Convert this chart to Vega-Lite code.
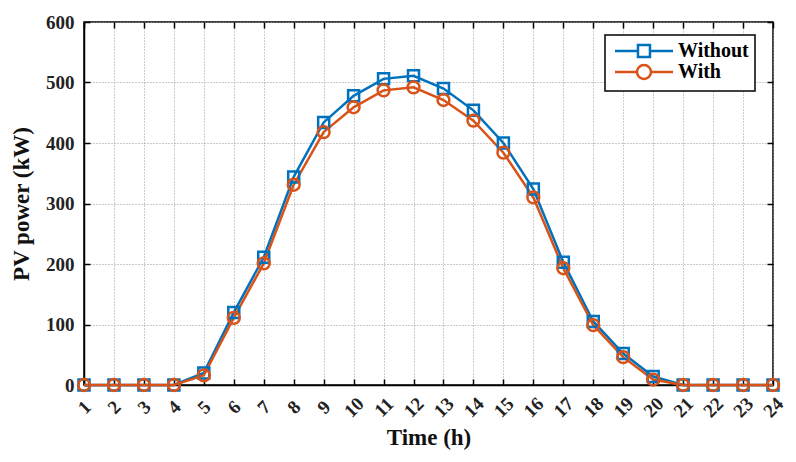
{
  "$schema": "https://vega.github.io/schema/vega-lite/v6.json",
  "description": "PV power over 24 hours, without and with",
  "width": 689,
  "height": 363,
  "autosize": {"type": "none"},
  "padding": {"left": 84, "top": 22, "right": 23, "bottom": 77},
  "background": "white",
  "config": {
    "font": "Liberation Serif",
    "view": {"stroke": "black", "strokeWidth": 1.5},
    "axis": {
      "labelFont": "Liberation Serif",
      "labelFontWeight": "bold",
      "labelFontSize": 19,
      "labelColor": "#222",
      "titleFont": "Liberation Serif",
      "titleFontWeight": "bold",
      "titleFontSize": 23,
      "titleColor": "#111",
      "domainColor": "black",
      "domainWidth": 1.5,
      "tickColor": "black",
      "tickWidth": 1.5,
      "tickSize": -6,
      "gridColor": "#999",
      "gridDash": [1, 2],
      "gridWidth": 1
    },
    "legend": {
      "labelFont": "Liberation Serif",
      "labelFontWeight": "bold",
      "labelFontSize": 20,
      "labelColor": "black",
      "title": null,
      "orient": "none",
      "legendX": 521,
      "legendY": 13,
      "direction": "vertical",
      "padding": 6,
      "fillColor": "white",
      "strokeColor": "black",
      "labelOffset": 47,
      "symbolSize": 144,
      "symbolStrokeWidth": 2.5,
      "symbolFillColor": "transparent",
      "rowPadding": -3
    }
  },
  "data": {
    "values": [
      {"hour": 1, "series": "Without", "power": 0},
      {"hour": 2, "series": "Without", "power": 0},
      {"hour": 3, "series": "Without", "power": 0},
      {"hour": 4, "series": "Without", "power": 0},
      {"hour": 5, "series": "Without", "power": 20},
      {"hour": 6, "series": "Without", "power": 120},
      {"hour": 7, "series": "Without", "power": 211},
      {"hour": 8, "series": "Without", "power": 344},
      {"hour": 9, "series": "Without", "power": 434},
      {"hour": 10, "series": "Without", "power": 478},
      {"hour": 11, "series": "Without", "power": 506},
      {"hour": 12, "series": "Without", "power": 511},
      {"hour": 13, "series": "Without", "power": 490},
      {"hour": 14, "series": "Without", "power": 454},
      {"hour": 15, "series": "Without", "power": 400},
      {"hour": 16, "series": "Without", "power": 324},
      {"hour": 17, "series": "Without", "power": 203},
      {"hour": 18, "series": "Without", "power": 105},
      {"hour": 19, "series": "Without", "power": 52},
      {"hour": 20, "series": "Without", "power": 14},
      {"hour": 21, "series": "Without", "power": 0},
      {"hour": 22, "series": "Without", "power": 0},
      {"hour": 23, "series": "Without", "power": 0},
      {"hour": 24, "series": "Without", "power": 0},
      {"hour": 1, "series": "With", "power": 0},
      {"hour": 2, "series": "With", "power": 0},
      {"hour": 3, "series": "With", "power": 0},
      {"hour": 4, "series": "With", "power": 0},
      {"hour": 5, "series": "With", "power": 16},
      {"hour": 6, "series": "With", "power": 111},
      {"hour": 7, "series": "With", "power": 201},
      {"hour": 8, "series": "With", "power": 331},
      {"hour": 9, "series": "With", "power": 418},
      {"hour": 10, "series": "With", "power": 459},
      {"hour": 11, "series": "With", "power": 487},
      {"hour": 12, "series": "With", "power": 492},
      {"hour": 13, "series": "With", "power": 471},
      {"hour": 14, "series": "With", "power": 437},
      {"hour": 15, "series": "With", "power": 384},
      {"hour": 16, "series": "With", "power": 310},
      {"hour": 17, "series": "With", "power": 193},
      {"hour": 18, "series": "With", "power": 99},
      {"hour": 19, "series": "With", "power": 46},
      {"hour": 20, "series": "With", "power": 9},
      {"hour": 21, "series": "With", "power": 0},
      {"hour": 22, "series": "With", "power": 0},
      {"hour": 23, "series": "With", "power": 0},
      {"hour": 24, "series": "With", "power": 0}
    ]
  },
  "layer": [
    {
      "mark": {"type": "line", "strokeWidth": 2.5},
      "encoding": {
        "x": {
          "field": "hour",
          "type": "quantitative",
          "scale": {"domain": [1, 24], "nice": false, "zero": false},
          "axis": {
            "orient": "bottom",
            "title": "Time (h)",
            "values": [1, 2, 3, 4, 5, 6, 7, 8, 9, 10, 11, 12, 13, 14, 15, 16, 17, 18, 19, 20, 21, 22, 23, 24],
            "labelAngle": -45,
            "labelAlign": "center",
            "labelBaseline": "middle",
            "labelPadding": 28,
            "titlePadding": 6,
            "grid": true
          }
        },
        "y": {
          "field": "power",
          "type": "quantitative",
          "scale": {"domain": [0, 600], "nice": false},
          "axis": {
            "orient": "left",
            "title": "PV power (kW)",
            "values": [0, 100, 200, 300, 400, 500, 600],
            "labelPadding": 16,
            "titlePadding": 12,
            "grid": true
          }
        },
        "color": {
          "field": "series",
          "type": "nominal",
          "sort": ["Without", "With"],
          "scale": {"domain": ["Without", "With"], "range": ["#0072BD", "#D95319"]},
          "legend": {
            "encode": {
              "legend": {"update": {"strokeWidth": {"value": 1.5}}},
              "symbols": {
                "update": {
                  "shape": {"signal": "datum.value === 'Without' ? 'M-1,0H2.83M4.83,0H8.67M2.83,-1H4.83V1H2.83Z' : 'M-1,0H2.66M5,0H8.67M2.66,0A1.17,1.17,0,1,0,5,0A1.17,1.17,0,1,0,2.66,0Z'"},
                  "fill": {"value": "transparent"}
                }
              }
            }
          }
        },
        "detail": {"field": "series"}
      }
    },
    {
      "transform": [{"filter": "datum.series === 'Without'"}],
      "mark": {"type": "point", "shape": "square", "size": 121, "filled": false, "strokeWidth": 2.5, "opacity": 1},
      "encoding": {
        "x": {
          "field": "hour",
          "type": "quantitative",
          "axis": {
            "orient": "top",
            "title": null,
            "labels": false,
            "grid": false,
            "domain": false,
            "values": [1, 2, 3, 4, 5, 6, 7, 8, 9, 10, 11, 12, 13, 14, 15, 16, 17, 18, 19, 20, 21, 22, 23, 24]
          }
        },
        "y": {
          "field": "power",
          "type": "quantitative",
          "axis": {
            "orient": "right",
            "title": null,
            "labels": false,
            "grid": false,
            "domain": false,
            "values": [0, 100, 200, 300, 400, 500, 600]
          }
        },
        "color": {
          "field": "series",
          "type": "nominal",
          "sort": ["Without", "With"],
          "scale": {"domain": ["Without", "With"], "range": ["#0072BD", "#D95319"]},
          "legend": {
            "encode": {
              "legend": {"update": {"strokeWidth": {"value": 1.5}}},
              "symbols": {
                "update": {
                  "shape": {"signal": "datum.value === 'Without' ? 'M-1,0H2.83M4.83,0H8.67M2.83,-1H4.83V1H2.83Z' : 'M-1,0H2.66M5,0H8.67M2.66,0A1.17,1.17,0,1,0,5,0A1.17,1.17,0,1,0,2.66,0Z'"},
                  "fill": {"value": "transparent"}
                }
              }
            }
          }
        }
      }
    },
    {
      "transform": [{"filter": "datum.series === 'With'"}],
      "mark": {"type": "point", "shape": "circle", "size": 140, "filled": false, "strokeWidth": 2.5, "opacity": 1},
      "encoding": {
        "x": {"field": "hour", "type": "quantitative", "axis": null},
        "y": {"field": "power", "type": "quantitative", "axis": null},
        "color": {
          "field": "series",
          "type": "nominal",
          "sort": ["Without", "With"],
          "scale": {"domain": ["Without", "With"], "range": ["#0072BD", "#D95319"]},
          "legend": {
            "encode": {
              "legend": {"update": {"strokeWidth": {"value": 1.5}}},
              "symbols": {
                "update": {
                  "shape": {"signal": "datum.value === 'Without' ? 'M-1,0H2.83M4.83,0H8.67M2.83,-1H4.83V1H2.83Z' : 'M-1,0H2.66M5,0H8.67M2.66,0A1.17,1.17,0,1,0,5,0A1.17,1.17,0,1,0,2.66,0Z'"},
                  "fill": {"value": "transparent"}
                }
              }
            }
          }
        }
      }
    }
  ],
  "resolve": {"axis": {"x": "independent", "y": "independent"}}
}
